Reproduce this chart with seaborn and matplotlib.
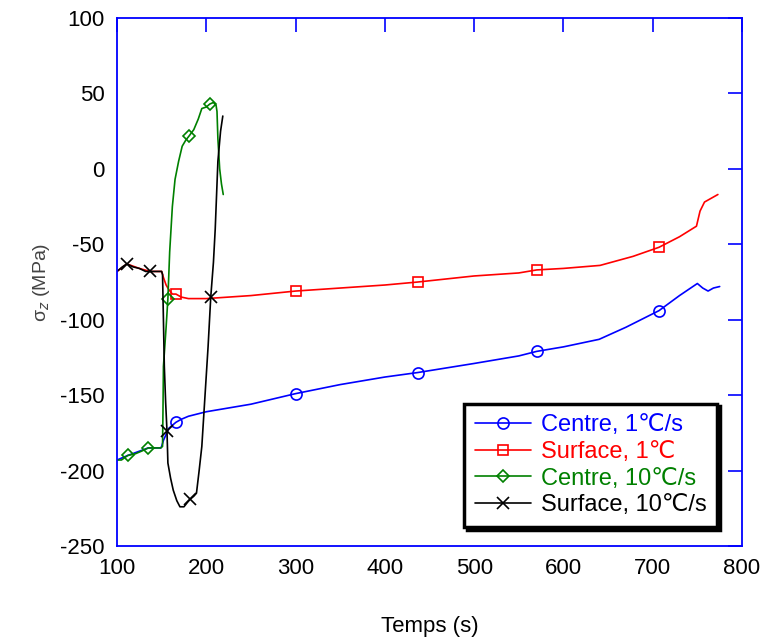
import matplotlib
matplotlib.use("Agg")
import matplotlib.pyplot as plt
import seaborn as sns
import pandas as pd

# Centre, 1°C/s
centre1_t = [100, 112, 135, 149, 150, 152, 155, 158, 162, 166, 172, 180, 200, 250, 300, 350,
             400, 437, 500, 550, 570, 600, 640, 670, 707, 730, 750, 756, 762, 768, 775]
centre1_s = [-193, -190, -185, -185, -184, -180, -176, -172, -170, -168, -166, -164, -161, -156, -149, -143,
             -138, -135, -129, -124, -121, -118, -113, -105, -94, -84, -76, -79, -81, -79, -78]
centre1_marks = [9, 14, 17, 20, 24]

# Surface, 1°C
surface1_t = [100, 111, 125, 137, 150, 152, 155, 158, 162, 166, 172, 180, 200, 250, 300, 350,
              400, 437, 500, 550, 570, 600, 641, 678, 707, 730, 749, 753, 758, 764, 773]
surface1_s = [-68, -63, -66, -68, -68, -72, -77, -80, -83, -83, -85, -86, -86, -84, -81, -79,
              -77, -75, -71, -69, -67, -66, -64, -58, -52, -45, -38, -28, -22, -20, -17]
surface1_marks = [9, 14, 17, 20, 24]

# Centre, 10°C/s
centre10_t = [100, 105, 112, 120, 128, 135, 142, 149, 151, 151.5, 152, 155, 157, 159, 162, 165,
              169, 173, 177, 181, 186, 191, 195, 200, 204, 208, 211, 212, 213, 215, 217, 219]
centre10_s = [-193, -193, -190, -189, -187, -185, -185, -185, -184, -160, -131, -105, -86, -55, -25, -7,
              5, 15, 19, 22, 26, 33, 40, 41, 43, 44, 42, 38, 20, 0, -10, -17]
centre10_marks = [2, 5, 12, 19, 24]

# Surface, 10°C/s
surface10_t = [100, 106, 111, 118, 125, 132, 137, 143, 150, 151, 152, 153, 154.5, 156, 157, 160, 163,
               167, 170.5, 175, 179, 182, 186, 189, 192, 195, 198.5, 202, 205, 208, 210, 213, 216, 218.5]
surface10_s = [-68, -65, -63, -65, -66, -68, -68, -68, -68, -70, -100, -131, -155, -174, -195, -205, -213,
               -220, -224, -224, -221, -219, -217, -215, -200, -184, -151, -118, -85, -62, -40, 5, 25, 35]
surface10_marks = [2, 6, 13, 21, 28]

series = [
    ("Centre, 1℃/s", centre1_t, centre1_s, centre1_marks, "#0000ff", "o", 8),
    ("Surface, 1℃", surface1_t, surface1_s, surface1_marks, "#ff0000", "s", 7.5),
    ("Centre, 10℃/s", centre10_t, centre10_s, centre10_marks, "#008000", "D", 6),
    ("Surface, 10℃/s", surface10_t, surface10_s, surface10_marks, "#000000", "x", 9),
]

sns.set_style("white")
plt.rcParams["font.family"] = ["Liberation Sans", "DejaVu Sans"]
plt.rcParams["axes.unicode_minus"] = False

fig = plt.figure(figsize=(7.63, 6.43), dpi=100)
ax = fig.add_axes([117 / 763, 1 - 546 / 643, 625 / 763, 528 / 643])

for label, t, s, marks, color, marker, ms in series:
    df = pd.DataFrame({"t": t, "s": s})
    sns.lineplot(data=df, x="t", y="s", sort=False, ax=ax, color=color, linewidth=1.2,
                 marker=marker, markevery=marks, markersize=ms, markerfacecolor="none",
                 markeredgecolor=color, markeredgewidth=1.2, label=label)

ax.set_xlim(100, 800)
ax.set_ylim(-250, 100)
ax.set_xticks(range(100, 801, 100))
ax.set_yticks(range(-250, 101, 50))
ax.tick_params(direction="in", length=10, width=1.2, color="#0000ff", labelsize=16,
               labelcolor="black", top=True, right=True, pad=9)
for sp in ax.spines.values():
    sp.set_color("#0000ff")
    sp.set_linewidth(1.3)

ax.set_xlabel("Temps (s)", fontsize=16, color="black", labelpad=26)
ax.set_ylabel("σ$_z$ (MPa)", fontsize=14, color="#444444", labelpad=6)

leg = ax.legend(loc="lower right", bbox_to_anchor=(0.96, 0.036), borderaxespad=0,
                fontsize=17, labelcolor="linecolor", frameon=True, fancybox=False,
                shadow={"color": "black", "alpha": 1}, handlelength=2.4, handletextpad=0.4,
                labelspacing=0.2, borderpad=0.45)
leg.get_frame().set_edgecolor("black")
leg.get_frame().set_linewidth(2.5)
leg.get_frame().set_alpha(1)

fig.savefig("out.png", dpi=100)
